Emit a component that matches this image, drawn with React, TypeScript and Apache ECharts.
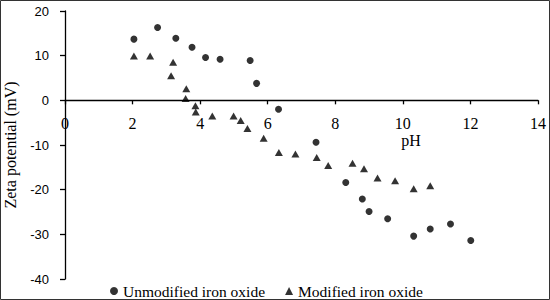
import React, { useEffect, useRef } from "react";
import * as echarts from "echarts";

const unmodifiedPH = [2.04, 2.74, 3.28, 3.76, 4.16, 4.59, 5.48, 5.67, 6.32, 7.43, 8.31, 8.8, 9.0, 9.55, 10.32, 10.81, 11.41, 12.01];
const unmodifiedZeta = [13.7, 16.3, 13.9, 11.9, 9.6, 9.2, 8.9, 3.8, -2.0, -9.4, -18.4, -22.1, -24.9, -26.5, -30.4, -28.8, -27.7, -31.4];

const modifiedPH = [2.04, 2.52, 3.2, 3.14, 3.59, 3.57, 3.86, 3.87, 4.36, 4.99, 5.2, 5.4, 5.88, 6.33, 6.82, 7.45, 7.79, 8.51, 8.85, 9.25, 9.77, 10.32, 10.81];
const modifiedZeta = [9.9, 9.9, 8.5, 5.5, 2.6, 0.4, -1.2, -2.6, -3.5, -3.5, -4.5, -6.3, -8.5, -11.7, -12.0, -12.8, -14.6, -14.1, -15.3, -17.4, -18.0, -19.8, -19.1];

const seriesNames = ["Unmodified iron oxide", "Modified iron oxide"];
const xTitle = "pH";
const yTitle = "Zeta potential (mV)";
const yMin = -40;
const yMax = 20;

const serif = "'Liberation Serif', 'Times New Roman', serif";
const sans = "'Liberation Sans', Arial, sans-serif";

const GRID_TOP = 11;
const GRID_BOTTOM = 21;
const H = 300;

export default function App() {
  const ref = useRef<HTMLDivElement>(null);
  useEffect(() => {
    document.body.style.margin = "0";
    const chart = echarts.init(ref.current!, null, { renderer: "svg" });
    const zip = (xs: number[], ys: number[]) => xs.map((x, i) => [x, ys[i]]);
    const plotH = H - GRID_TOP - GRID_BOTTOM;
    const zeroOffset = -(plotH * (0 - yMin)) / (yMax - yMin);
    chart.setOption({
      animation: false,
      backgroundColor: "#fff",
      grid: { left: 65, right: 12, top: GRID_TOP, bottom: GRID_BOTTOM, outerBoundsMode: "none", containLabel: false },
      xAxis: {
        type: "value",
        min: 0,
        max: 14,
        interval: 2,
        position: "bottom",
        offset: zeroOffset,
        axisLine: { onZero: false, lineStyle: { color: "#000", width: 1.3 } },
        axisTick: { show: true, inside: false, length: 4, lineStyle: { color: "#000", width: 1.3 } },
        axisLabel: { color: "#000", fontFamily: serif, fontSize: 16, margin: 15 },
        splitLine: { show: false },
      },
      yAxis: {
        type: "value",
        min: yMin,
        max: yMax,
        interval: 10,
        name: yTitle,
        nameLocation: "middle",
        nameGap: 47,
        nameTextStyle: { color: "#000", fontFamily: serif, fontSize: 16 },
        axisLine: { show: true, onZero: false, lineStyle: { color: "#000", width: 1.3 } },
        axisTick: { show: true, length: 5, lineStyle: { color: "#000", width: 1.3 } },
        axisLabel: { color: "#000", fontFamily: sans, fontSize: 13, margin: 16 },
        splitLine: { show: false },
      },
      legend: {
        bottom: 1,
        left: 110,
        padding: 0,
        itemGap: 20,
        itemWidth: 8,
        itemHeight: 8,
        textStyle: { color: "#000", fontFamily: serif, fontSize: 15.5 },
        data: [
          { name: seriesNames[0], icon: "circle", itemStyle: { color: "#000" } },
          { name: seriesNames[1], icon: "triangle", itemStyle: { color: "#000" } },
        ],
      },
      graphic: [
        {
          type: "rect",
          shape: { x: 0.5, y: 0.5, width: 549, height: 299 },
          style: { fill: "none", stroke: "#333", lineWidth: 1 },
          silent: true,
        },
        {
          type: "text",
          x: 411,
          y: 140,
          style: { text: xTitle, font: `16px ${serif}`, fill: "#000", textAlign: "center", textVerticalAlign: "middle" },
        },
      ],
      series: [
        {
          name: seriesNames[0],
          type: "scatter",
          symbol: "circle",
          symbolSize: 7,
          itemStyle: { color: "#000" },
          data: zip(unmodifiedPH, unmodifiedZeta),
        },
        {
          name: seriesNames[1],
          type: "scatter",
          symbol: "triangle",
          symbolSize: [8, 7],
          itemStyle: { color: "#000" },
          data: zip(modifiedPH, modifiedZeta),
        },
      ],
    });
    return () => chart.dispose();
  }, []);
  return <div ref={ref} style={{ position: "absolute", left: 0, top: 0, width: 550, height: 300 }} />;
}
